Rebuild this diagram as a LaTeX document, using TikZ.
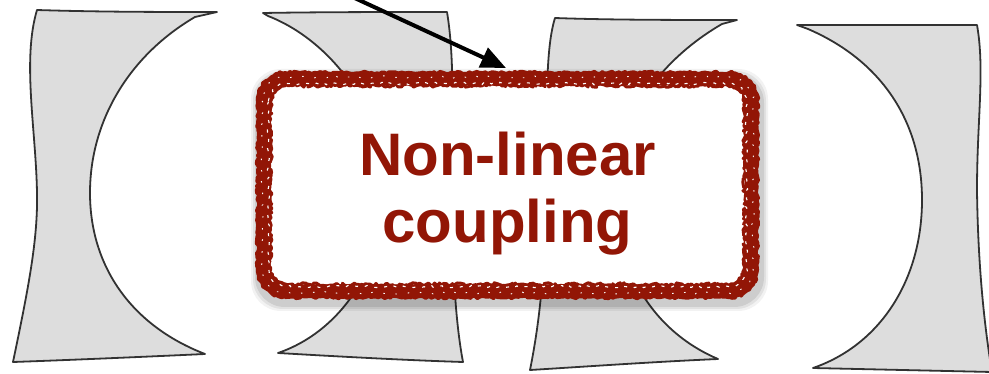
\documentclass[tikz,border=0pt]{standalone}
\usepackage{fontspec}
\setmainfont{Liberation Sans}
\usetikzlibrary{arrows.meta,decorations.pathmorphing}
\definecolor{couplingred}{RGB}{146,22,6}
\definecolor{mirrorfill}{RGB}{221,221,221}
\definecolor{mirrorline}{RGB}{50,50,50}
\tikzset{
  mirror/.style={fill=mirrorfill, draw=mirrorline, line width=1.8pt, line join=round},
  pointer/.style={line width=4pt, -{Triangle[length=25pt,width=21pt]}},
  rough/.style={decoration={random steps, segment length=2.5pt, amplitude=1.2pt}},
  rougher/.style={decoration={random steps, segment length=2pt, amplitude=1.7pt}},
  rim/.style={draw=couplingred, line width=#1, line join=round},
}
\begin{document}
\begin{tikzpicture}[x=1pt,y=-1pt]
\useasboundingbox (0,0) rectangle (989,374);
\pgfmathsetseed{7}

% the four mirrors
\path[mirror] (37,10) .. controls (100,12) and (160,12) .. (217,12) -- (195,17)
  .. controls (130,55) and (90,120) .. (90,193)
  .. controls (90,265) and (130,325) .. (205,354)
  .. controls (140,357) and (70,360) .. (13,362)
  .. controls (28,290) and (38,240) .. (37,193)
  .. controls (36,130) and (22,60) .. cycle;

\path[mirror] (263,13) .. controls (320,12) and (390,12) .. (447,12)
  .. controls (455,60) and (452,120) .. (452,190)
  .. controls (452,260) and (455,320) .. (463,362)
  .. controls (400,360) and (330,356) .. (278,353)
  .. controls (345,330) and (385,260) .. (385,190)
  .. controls (385,110) and (330,40) .. (268,16) -- cycle;

\path[mirror] (555,18) .. controls (610,20) and (680,20) .. (737,20) -- (722,24)
  .. controls (660,60) and (615,120) .. (615,193)
  .. controls (615,265) and (650,330) .. (718,359)
  .. controls (650,362) and (580,367) .. (530,370)
  .. controls (538,330) and (545,280) .. (546,193)
  .. controls (547,110) and (545,50) .. cycle;

\path[mirror] (797,25) .. controls (860,25) and (920,25) .. (977,25)
  .. controls (985,70) and (977,120) .. (977,190)
  .. controls (978,270) and (985,330) .. (992,372)
  -- (813,368)
  .. controls (880,345) and (922,280) .. (922,200)
  .. controls (922,120) and (880,60) .. (808,29) -- cycle;

% coupling box: corners of its outer rim
\coordinate (boxnw) at (255,70);
\coordinate (boxse) at (760,300);

% soft shadow
\foreach \g/\o in {6/0.05,4/0.07,2/0.09}
  \fill[black, opacity=\o, rounded corners=30pt]
    ([shift={(2-\g,5-\g)}]boxnw) rectangle ([shift={(2+\g,5+\g)}]boxse);

\node[fill=white, rounded corners=26pt, minimum width=500pt, minimum height=225pt, inner sep=0pt] (box) at (507.5,185) {};

% hand-drawn rim
\draw[rim=13pt, rounded corners=22pt]
  ([shift={(9,9)}]boxnw) rectangle ([shift={(-9,-9)}]boxse);
\draw[rim=3pt, rough] decorate {[rounded corners=28pt]
  ([shift={(2.5,2.5)}]boxnw) rectangle ([shift={(-2.5,-2.5)}]boxse)};
\draw[rim=3pt, rougher] decorate {[rounded corners=17pt]
  ([shift={(15.5,15.5)}]boxnw) rectangle ([shift={(-15.5,-15.5)}]boxse)};
\draw[white, line width=1.1pt, rough, dash pattern=on 3pt off 7pt] decorate {[rounded corners=18pt]
  ([shift={(13.5,13.5)}]boxnw) rectangle ([shift={(-13.5,-13.5)}]boxse)};
\draw[white, line width=0.9pt, rough, dash pattern=on 1.5pt off 11pt] decorate {[rounded corners=24pt]
  ([shift={(7,7)}]boxnw) rectangle ([shift={(-7,-7)}]boxse)};

\node[text=couplingred, font=\bfseries\fontsize{60}{67}\selectfont, align=center, inner sep=0pt]
  (label) at (507.5,193.5) {Non-linear\\coupling};

% pointer into the box
\coordinate (arrowtail) at (346,-6);
\coordinate (arrowtip) at (506,68);
\draw[pointer] (arrowtail) -- (arrowtip);
\end{tikzpicture}
\end{document}
